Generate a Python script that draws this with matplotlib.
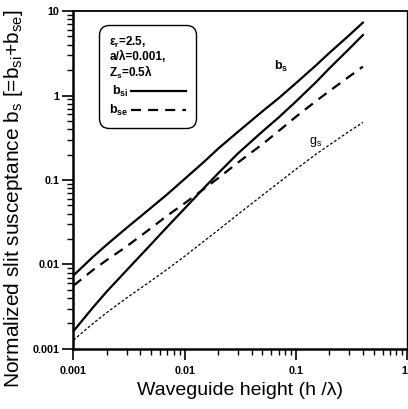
import matplotlib
matplotlib.use('Agg')
from matplotlib import pyplot as plt

plt.rcParams['font.family'] = ['Liberation Sans', 'DejaVu Sans']
plt.rcParams['mathtext.fontset'] = 'custom'
plt.rcParams['mathtext.default'] = 'regular'

# values (log-log)
height = [0.001, 0.0015, 0.002, 0.003, 0.005, 0.007, 0.01, 0.015, 0.02,
          0.03, 0.05, 0.07, 0.1, 0.15, 0.2, 0.3, 0.4]
b_s = [0.0074, 0.0123, 0.0172, 0.027, 0.047, 0.068, 0.103, 0.165, 0.235,
       0.37, 0.65, 0.93, 1.4, 2.25, 3.2, 5.15, 7.3]
b_si = [0.00162, 0.0031, 0.0048, 0.0085, 0.0174, 0.028, 0.046, 0.081, 0.12,
        0.205, 0.375, 0.55, 0.85, 1.42, 2.1, 3.55, 5.2]
b_se = [0.0056, 0.0086, 0.0113, 0.0163, 0.027, 0.038, 0.053, 0.079, 0.105,
        0.16, 0.265, 0.38, 0.56, 0.85, 1.13, 1.67, 2.2]
g_s = [0.00127, 0.002, 0.0027, 0.004, 0.0064, 0.0088, 0.0125, 0.019, 0.0255,
       0.039, 0.066, 0.093, 0.134, 0.2, 0.26, 0.375, 0.48]

xticks = [0.001, 0.01, 0.1, 1]
xticklabels = ['0.001', '0.01', '0.1', '1']
yticks = [0.001, 0.01, 0.1, 1, 10]
yticklabels = ['0.001', '0.01', '0.1', '1', '10']

fig = plt.figure(figsize=(4.08, 4.09), dpi=100)
ax = fig.add_axes([0.18, 0.147, 0.818, 0.826])

ax.plot(height, b_s, color='black', lw=1.6)
ax.plot(height, b_si, color='black', lw=1.6, label='b$_{si}$')
ax.plot(height, b_se, color='black', lw=1.6, dashes=(4.5, 3.2), label='b$_{se}$')
ax.plot(height, g_s, color='black', lw=0.9, dashes=(2.2, 1.6))

ax.set_xscale('log')
ax.set_yscale('log')
ax.set_xlim(0.001, 1)
ax.set_ylim(0.001, 10)
ax.set_xticks(xticks)
ax.set_xticklabels(xticklabels)
ax.set_yticks(yticks)
ax.set_yticklabels(yticklabels)
for lab in ax.get_xticklabels() + ax.get_yticklabels():
    lab.set_fontweight('bold')
    lab.set_fontsize(7.8)
ax.get_xticklabels()[-1].set_horizontalalignment('right')
ax.tick_params(which='major', direction='out', length=8, width=1.2, pad=2)
ax.tick_params(which='minor', direction='out', length=4.5, width=1.0)
ax.tick_params(axis='x', which='major', pad=4)

ax.spines['left'].set_linewidth(1.8)
ax.spines['bottom'].set_linewidth(1.8)
ax.spines['top'].set_linewidth(1.3)
ax.spines['right'].set_linewidth(1.0)

ax.set_xlabel('Waveguide height (h /λ)', fontsize=14, labelpad=5)
ax.set_ylabel('Normalized slit susceptance b$_s$ [=b$_{si}$+b$_{se}$]', fontsize=15)
ax.yaxis.set_label_coords(-0.145, 0.445)

ax.text(0.6, 0.825, 'b$_s$', transform=ax.transAxes, fontsize=9, fontweight='bold')
ax.text(0.705, 0.605, 'g$_s$', transform=ax.transAxes, fontsize=9)

leg = ax.legend(loc='upper left', bbox_to_anchor=(0.077, 0.958), borderaxespad=0,
                title='ε$_r$=2.5,\na/λ=0.001,\nZ$_s$=0.5λ', alignment='left',
                markerfirst=False, handlelength=4.4, handletextpad=0.2,
                fancybox=True, framealpha=1, edgecolor='black',
                prop={'weight': 'bold', 'size': 9},
                title_fontproperties={'weight': 'bold', 'size': 8.5},
                borderpad=0.8, labelspacing=0.3)
leg.get_title().set_linespacing(1.05)
leg.get_frame().set_linewidth(1.0)
leg.get_frame().set_boxstyle('round,pad=0,rounding_size=0.8')

fig.savefig('out.png', dpi=100)
